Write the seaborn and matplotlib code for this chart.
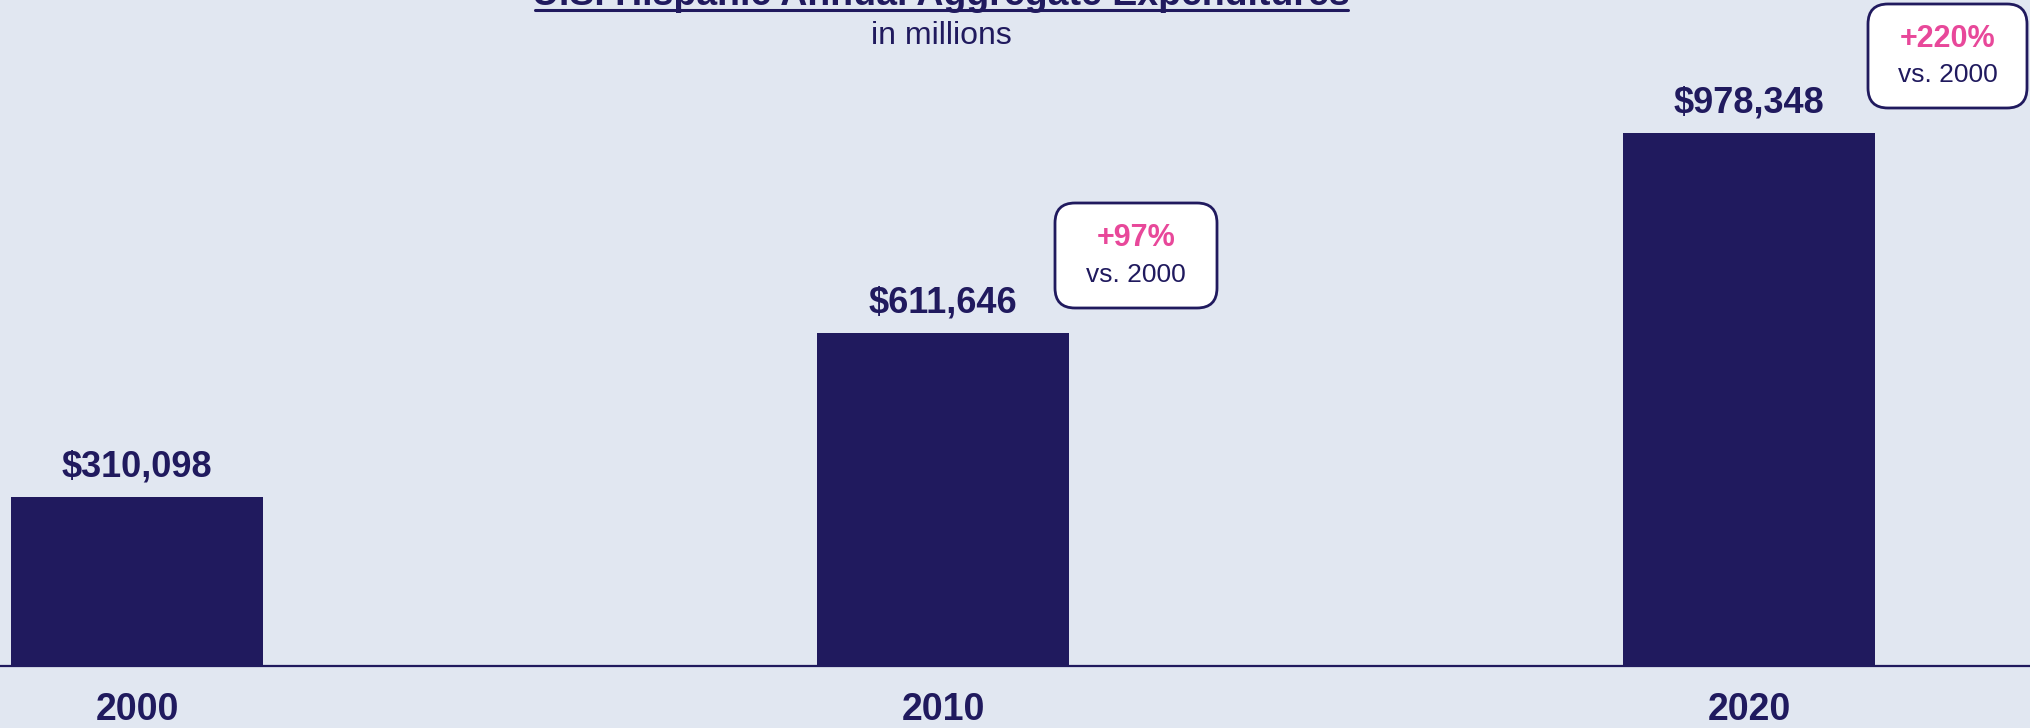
import matplotlib
matplotlib.use("Agg")
import matplotlib.pyplot as plt
import seaborn as sns
import pandas as pd
from matplotlib.patches import FancyBboxPatch
from matplotlib.lines import Line2D

# ---- data ----
years = ["2000", "2010", "2020"]
expenditures = [310098, 611646, 978348]
change_labels = ["+97%", "+220%"]
change_base = ["vs. 2000", "vs. 2000"]

title = "U.S. Hispanic Annual Aggregate Expenditures"
subtitle = "in millions"

NAVY = "#201A5E"
PINK = "#E8489A"
BG = "#E1E7F1"

sns.set_theme(style="white")
plt.rcParams["font.family"] = ["Liberation Sans", "DejaVu Sans"]

df = pd.DataFrame({"year": years, "value": expenditures})

W, H = 2031, 728
fig = plt.figure(figsize=(W / 100, H / 100), dpi=100, facecolor=BG)
ax = fig.add_axes([0, 62 / H, 1, 666 / H])
ax.set_facecolor(BG)

sns.barplot(data=df, x="year", y="value", color=NAVY, width=0.313,
            saturation=1, ax=ax, edgecolor=NAVY, linewidth=0)

ax.set_xlim(-0.17, 2.35)
ax.set_ylim(0, 1222000)
for s in ["top", "left", "right"]:
    ax.spines[s].set_visible(False)
ax.spines["bottom"].set_color(NAVY)
ax.spines["bottom"].set_linewidth(1.6)
ax.set_yticks([])
ax.set_xlabel("")
ax.set_ylabel("")
ax.tick_params(axis="x", length=0, pad=19, labelsize=27, labelcolor=NAVY)
for lbl in ax.get_xticklabels():
    lbl.set_fontweight("bold")

ax.bar_label(ax.containers[0], labels=[f"${v:,.0f}" for v in expenditures],
             padding=9, fontsize=26, fontweight="bold", color=NAVY)

# title + subtitle
fig.text(941 / W, 1 - 5 / H, title, ha="center", va="baseline",
         fontsize=27, fontweight="bold", color=NAVY)
fig.lines.append(Line2D([535 / W, 1348 / W], [1 - 10 / H, 1 - 10 / H],
                        transform=fig.transFigure, color=NAVY, lw=2.2))
fig.text(941 / W, 1 - 36 / H, subtitle, ha="center", va="center",
         fontsize=23, color=NAVY)

# change callout boxes (pixel geometry: left, top, right, bottom)
boxes = [(1055, 203, 1217, 308), (1868, 4, 2027, 108)]
for (l, t, r, b), pct, base in zip(boxes, change_labels, change_base):
    patch = FancyBboxPatch((l / 100, (H - b) / 100), (r - l) / 100, (b - t) / 100,
                           boxstyle="round,pad=0,rounding_size=0.2",
                           transform=fig.dpi_scale_trans, facecolor="white",
                           edgecolor=NAVY, linewidth=2.0)
    fig.patches.append(patch)
    cx = (l + r) / 2 / W
    cy = (t + b) / 2
    fig.text(cx, 1 - (cy - 17) / H, pct, ha="center", va="center",
             fontsize=22, fontweight="bold", color=PINK)
    fig.text(cx, 1 - (cy + 19) / H, base, ha="center", va="center",
             fontsize=19, color=NAVY)

fig.savefig("out.png", dpi=100, facecolor=BG)
